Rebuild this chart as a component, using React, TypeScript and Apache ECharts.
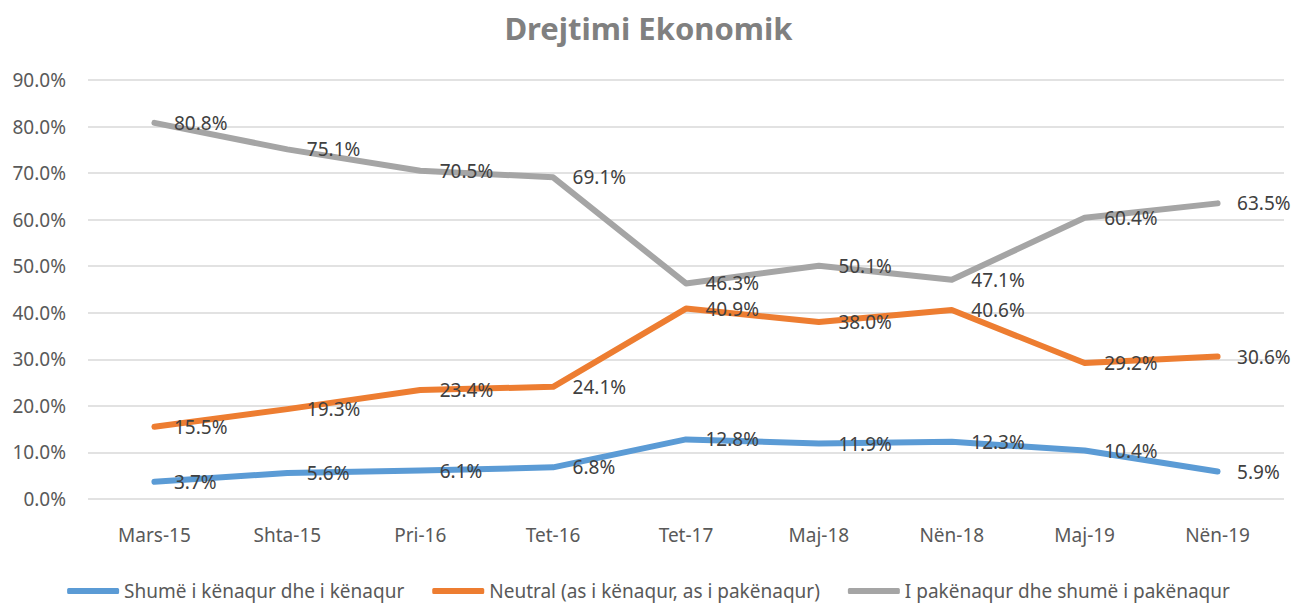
import React, { useEffect, useRef } from "react";
import * as echarts from "echarts";

const categories = ["Mars-15", "Shta-15", "Pri-16", "Tet-16", "Tet-17", "Maj-18", "Nën-18", "Maj-19", "Nën-19"];
const satisfied = [3.7, 5.6, 6.1, 6.8, 12.8, 11.9, 12.3, 10.4, 5.9];
const neutral = [15.5, 19.3, 23.4, 24.1, 40.9, 38.0, 40.6, 29.2, 30.6];
const dissatisfied = [80.8, 75.1, 70.5, 69.1, 46.3, 50.1, 47.1, 60.4, 63.5];
const seriesNames = [
  "Shumë i kënaqur dhe i kënaqur",
  "Neutral (as i kënaqur, as i pakënaqur)",
  "I pakënaqur dhe shumë i pakënaqur",
];
const colors = ["#5B9BD5", "#ED7D31", "#A5A5A5"];

const FONT = "'Noto Sans', sans-serif";

export default function App() {
  const ref = useRef<HTMLDivElement>(null);
  useEffect(() => {
    if (!ref.current) return;
    const chart = echarts.init(ref.current, undefined, { renderer: "svg" });
    const mk = (name: string, data: number[], color: string) => ({
      name,
      type: "line",
      data,
      symbol: "circle",
      symbolSize: 1,
      showSymbol: true,
      itemStyle: { color },
      lineStyle: { color, width: 6, cap: "round", join: "round" },
      label: {
        show: true,
        position: "right",
        distance: 19,
        formatter: (p: any) => p.value.toFixed(1) + "%",
        color: "#404040",
        fontSize: 19,
        fontFamily: FONT,
      },
      emphasis: { disabled: true },
    });
    chart.setOption({
      animation: false,
      color: colors,
      title: {
        text: "Drejtimi Ekonomik",
        left: "center",
        top: 7,
        textStyle: { color: "#808080", fontSize: 31, fontWeight: "bold", fontFamily: FONT },
      },
      grid: { left: 88, right: 13, top: 80, bottom: 108, containLabel: false },
      legend: {
        top: 581,
        left: "center",
        padding: 0,
        itemWidth: 52,
        itemHeight: 6,
        itemGap: 28,
        icon: "roundRect",
        textStyle: { color: "#595959", fontSize: 19, lineHeight: 20, fontFamily: FONT },
        data: seriesNames,
      },
      xAxis: {
        type: "category",
        data: categories,
        boundaryGap: true,
        axisLine: { show: false },
        axisTick: { show: false },
        axisLabel: { color: "#595959", fontSize: 19, fontFamily: FONT, margin: 26 },
      },
      yAxis: {
        type: "value",
        min: 0,
        max: 90,
        interval: 10,
        axisLabel: {
          color: "#595959",
          fontSize: 19,
          fontFamily: FONT,
          margin: 22,
          formatter: (v: number) => v.toFixed(1) + "%",
        },
        splitLine: { lineStyle: { color: "#D9D9D9", width: 1.5 } },
        axisLine: { show: false },
        axisTick: { show: false },
      },
      series: [
        mk(seriesNames[0], satisfied, colors[0]),
        mk(seriesNames[1], neutral, colors[1]),
        mk(seriesNames[2], dissatisfied, colors[2]),
      ],
    });
    return () => chart.dispose();
  }, []);
  return (
    <div
      ref={ref}
      style={{ position: "fixed", left: 0, top: 0, width: 1297, height: 607, background: "#fff" }}
    />
  );
}
